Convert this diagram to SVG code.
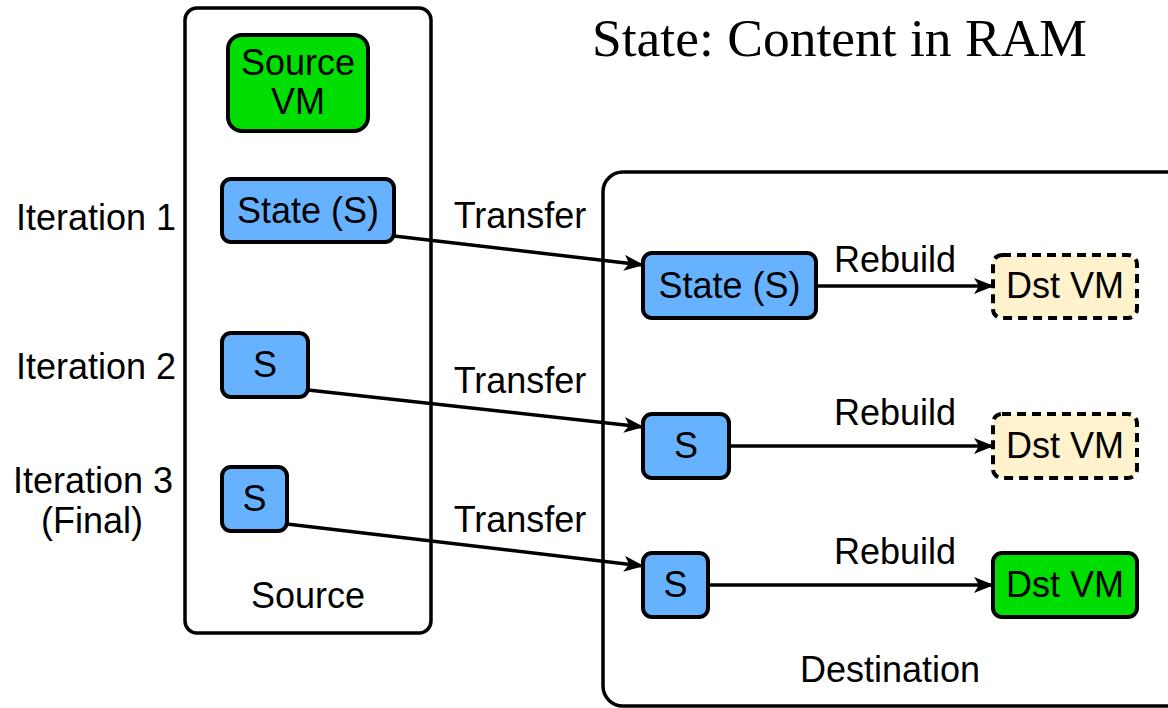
<svg xmlns="http://www.w3.org/2000/svg" width="1168" height="708" viewBox="0 0 1168 708">
  <style>
    .container { fill: #ffffff; stroke: #000000; stroke-width: 3.5; }
    .state { fill: #66b2ff; stroke: #000000; stroke-width: 4; }
    .vm { fill: #00dd00; stroke: #000000; stroke-width: 4; }
    .pending { fill: #fff2cc; stroke: #000000; stroke-width: 4; stroke-dasharray: 9 6; }
    .label { font-family: "Liberation Sans", Arial, sans-serif; font-size: 36px; fill: #000000; }
    .mid { text-anchor: middle; }
    .right { text-anchor: end; }
    .title { font-family: "Liberation Serif", "Times New Roman", serif; font-size: 53.5px; fill: #000000; }
    .edge { fill: none; stroke: #000000; stroke-width: 3.5; marker-end: url(#arrow); }
  </style>
  <defs>
    <marker id="arrow" viewBox="0 0 20 16" refX="19" refY="8" markerWidth="20" markerHeight="16" markerUnits="userSpaceOnUse" orient="auto">
      <path d="M0,0 L20,8 L0,16 L5,8 Z" fill="#000000"/>
    </marker>
  </defs>

  <rect width="1168" height="708" fill="#ffffff"/>

  <text id="title" class="title" x="592" y="56">State: Content in RAM</text>

  <!-- row labels -->
  <g id="row-labels">
    <text class="label right" x="176" y="230">Iteration 1</text>
    <text class="label right" x="176" y="379">Iteration 2</text>
    <text class="label right" x="173" y="493">Iteration 3</text>
    <text class="label mid" x="92" y="533">(Final)</text>
  </g>

  <!-- source host -->
  <g id="source">
    <rect class="container" x="185" y="8" width="246" height="625" rx="12"/>
    <text class="label mid" x="308" y="608">Source</text>
  </g>
  <g id="source-vm">
    <rect class="vm" x="228" y="35" width="140" height="96" rx="14"/>
    <text class="label mid" x="298" y="75">Source</text>
    <text class="label mid" x="298" y="114">VM</text>
  </g>
  <g id="src-state-1">
    <rect class="state" x="222" y="179" width="172" height="63" rx="9"/>
    <text class="label mid" x="308" y="223">State (S)</text>
  </g>
  <g id="src-state-2">
    <rect class="state" x="222" y="333" width="86" height="64" rx="9"/>
    <text class="label mid" x="265" y="377">S</text>
  </g>
  <g id="src-state-3">
    <rect class="state" x="222" y="467" width="65" height="64" rx="9"/>
    <text class="label mid" x="254.5" y="511">S</text>
  </g>

  <!-- destination host -->
  <g id="destination">
    <rect class="container" x="603" y="172" width="590" height="534" rx="20"/>
    <text class="label mid" x="890" y="682">Destination</text>
  </g>
  <g id="dst-state-1">
    <rect class="state" x="643" y="253" width="173" height="65" rx="9"/>
    <text class="label mid" x="729.5" y="298">State (S)</text>
  </g>
  <g id="dst-vm-1">
    <rect class="pending" x="993" y="255" width="144" height="63" rx="9"/>
    <text class="label mid" x="1065" y="298">Dst VM</text>
  </g>
  <g id="dst-state-2">
    <rect class="state" x="643" y="414" width="86" height="64" rx="9"/>
    <text class="label mid" x="686" y="458">S</text>
  </g>
  <g id="dst-vm-2">
    <rect class="pending" x="993" y="414" width="144" height="64" rx="9"/>
    <text class="label mid" x="1065" y="458">Dst VM</text>
  </g>
  <g id="dst-state-3">
    <rect class="state" x="643" y="553" width="65" height="64" rx="9"/>
    <text class="label mid" x="675.5" y="597">S</text>
  </g>
  <g id="dst-vm-3">
    <rect class="vm" x="993" y="553" width="144" height="64" rx="9"/>
    <text class="label mid" x="1065" y="597">Dst VM</text>
  </g>

  <!-- transfers and rebuilds -->
  <g id="connectors">
    <path class="edge" d="M394,236 L643,265"/>
    <path class="edge" d="M308,390 L643,427"/>
    <path class="edge" d="M287,524 L643,566"/>
    <path class="edge" d="M816,286 L993,286"/>
    <path class="edge" d="M729,446 L993,446"/>
    <path class="edge" d="M708,585 L993,585"/>
    <text class="label mid" x="520" y="228">Transfer</text>
    <text class="label mid" x="520" y="393">Transfer</text>
    <text class="label mid" x="520" y="532">Transfer</text>
    <text class="label mid" x="895" y="272">Rebuild</text>
    <text class="label mid" x="895" y="425">Rebuild</text>
    <text class="label mid" x="895" y="564">Rebuild</text>
  </g>
</svg>
